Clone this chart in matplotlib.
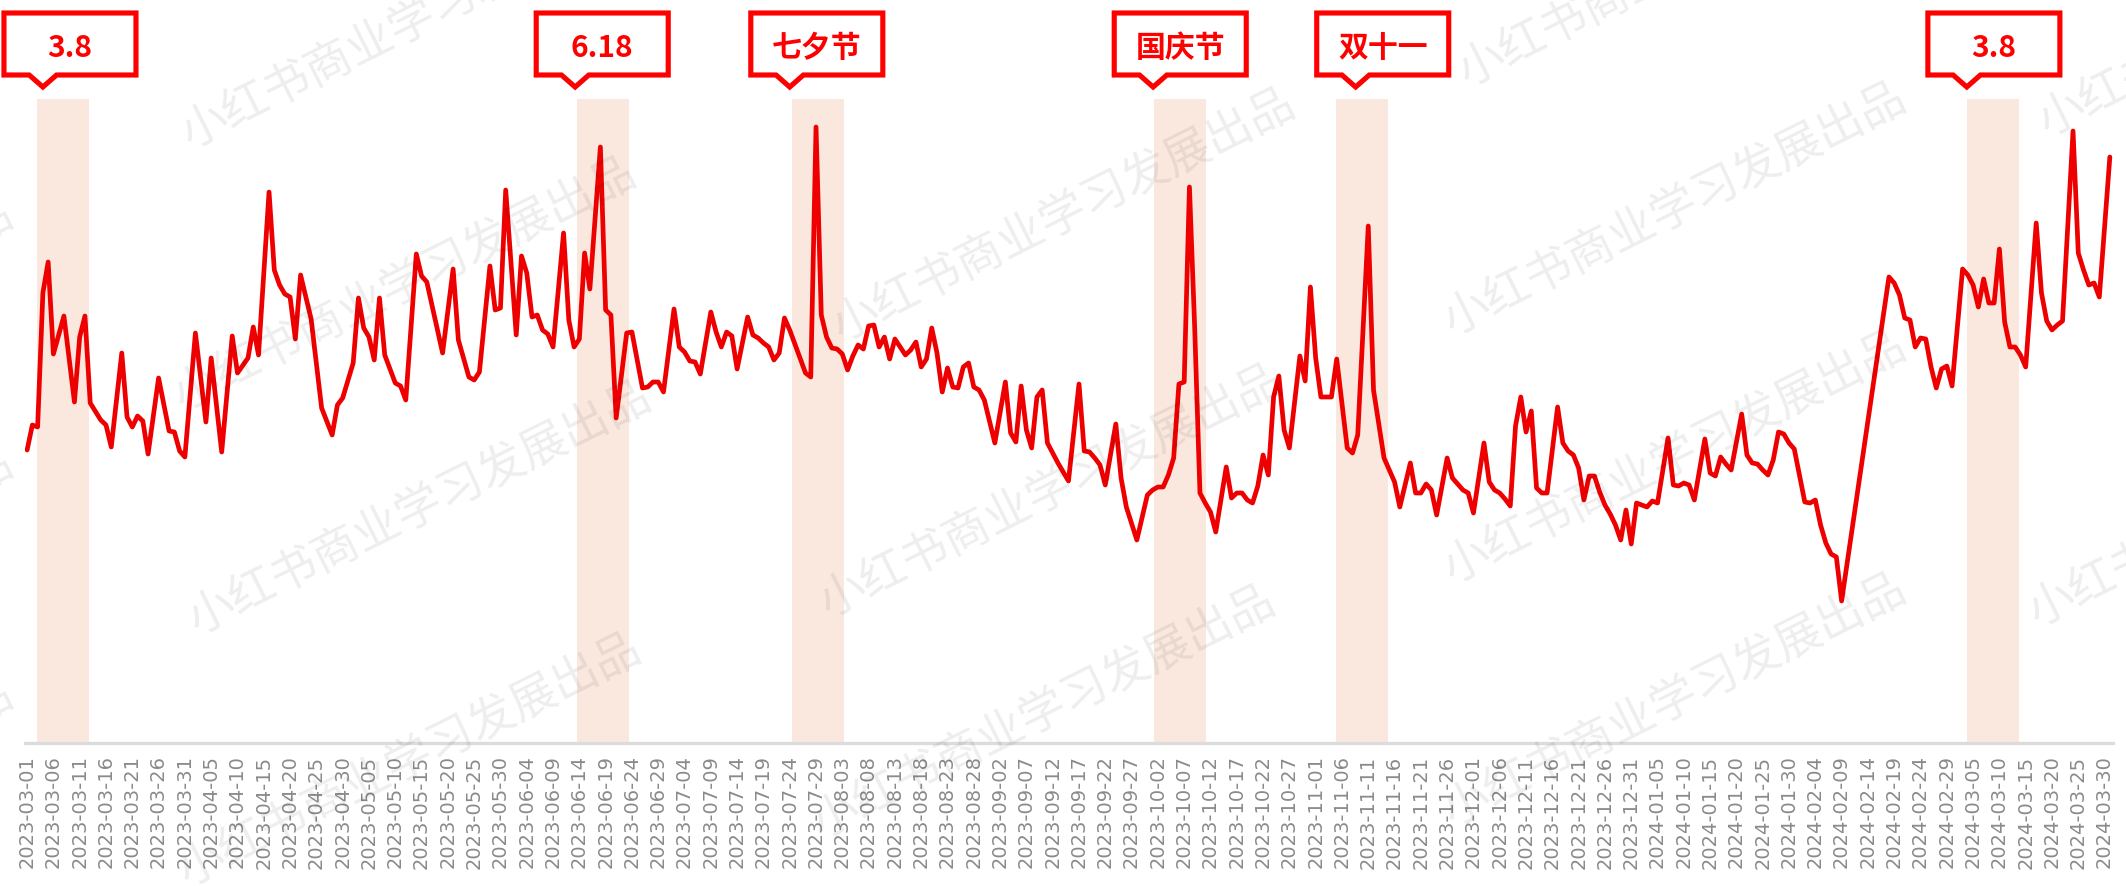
"""Daily index with festival bands (2023-03-01 .. 2024-03-31)."""

import numpy as np
import pandas as pd
import matplotlib
matplotlib.use('Agg')
import matplotlib.pyplot as plt
from matplotlib.patches import Polygon
from matplotlib import transforms

plt.rcParams['font.family'] = ['DejaVu Sans']
CJK = ['Noto Sans CJK SC', 'DejaVu Sans']

start = pd.Timestamp('2023-03-01')

# days since 2023-03-01 and index value
days = [0, 1, 2, 3, 4, 5, 7, 9, 10, 11, 12, 14, 15, 16, 18, 19, 20, 21, 22, 23,
        25, 27, 28, 29, 30, 32, 34, 35, 37, 39, 40, 42, 43, 44, 46, 47, 48, 49,
        50, 51, 52, 54, 56, 58, 59, 60, 62, 63, 64, 65, 66, 67, 68, 70, 71, 72,
        74, 75, 76, 79, 81, 82, 84, 85, 86, 88, 89, 90, 91, 93, 94, 95, 96, 97,
        98, 99, 100, 102, 103, 104, 105, 106, 107, 109, 110, 111, 112, 114, 115,
        117, 118, 119, 120, 121, 123, 124, 125, 126, 127, 128, 130, 131, 132,
        133, 134, 135, 137, 138, 139, 140, 141, 142, 143, 144, 145, 148, 149,
        150, 151, 152, 153, 154, 155, 156, 157, 158, 159, 160, 161, 162, 163,
        164, 165, 166, 167, 168, 169, 170, 171, 172, 173, 174, 175, 176, 177,
        178, 179, 180, 181, 182, 184, 186, 187, 188, 189, 190, 191, 192, 193,
        194, 196, 198, 200, 201, 202, 203, 204, 205, 207, 208, 209, 211, 213,
        214, 215, 216, 217, 218, 219, 220, 221, 222, 223, 224, 225, 226, 228,
        229, 230, 231, 232, 233, 234, 235, 236, 237, 238, 239, 240, 242, 243,
        244, 245, 246, 247, 248, 249, 251, 252, 253, 255, 256, 258, 260, 261,
        263, 264, 265, 266, 267, 268, 270, 271, 272, 273, 274, 275, 277, 278,
        279, 280, 281, 282, 283, 284, 285, 286, 287, 288, 289, 291, 292, 293,
        294, 295, 296, 297, 298, 299, 300, 301, 302, 303, 304, 305, 306, 307,
        308, 309, 310, 312, 313, 314, 315, 316, 317, 319, 320, 321, 322, 323,
        324, 326, 327, 328, 329, 330, 331, 332, 333, 334, 335, 336, 338, 339,
        340, 341, 342, 343, 344, 345, 354, 355, 356, 357, 358, 359, 360, 361,
        362, 363, 364, 365, 366, 368, 369, 370, 371, 372, 373, 374, 375, 376,
        377, 378, 379, 380, 382, 383, 384, 385, 386, 387, 389, 390, 391, 392,
        393, 394, 396]
values = [293, 318, 316, 450, 481, 389, 427, 341, 406, 427, 340, 323, 318, 296,
          390, 326, 316, 327, 322, 289, 365, 312, 311, 292, 286, 410, 321, 385,
          291, 407, 370, 385, 416, 388, 551, 473, 458, 449, 446, 404, 468, 424,
          335, 308, 338, 345, 380, 445, 415, 406, 383, 445, 388, 360, 357, 343,
          489, 467, 461, 390, 474, 403, 366, 363, 371, 477, 433, 435, 553, 408,
          487, 470, 426, 428, 413, 409, 396, 510, 423, 396, 404, 490, 454, 596,
          433, 428, 325, 410, 411, 355, 356, 361, 361, 351, 434, 396, 391, 382,
          381, 369, 431, 411, 396, 411, 407, 374, 426, 408, 405, 400, 396, 383,
          390, 425, 413, 370, 366, 616, 428, 406, 395, 394, 389, 373, 387, 398,
          394, 417, 418, 396, 406, 384, 404, 396, 388, 393, 401, 376, 384, 415,
          390, 351, 375, 356, 355, 376, 380, 356, 353, 343, 300, 361, 310, 301,
          357, 313, 295, 346, 353, 300, 280, 262, 359, 292, 291, 285, 278, 258,
          319, 265, 236, 203, 248, 253, 256, 256, 268, 285, 359, 361, 556, 415,
          250, 240, 231, 211, 276, 245, 250, 250, 243, 240, 257, 288, 268, 346,
          367, 313, 295, 387, 362, 456, 385, 346, 346, 346, 384, 295, 290, 308,
          517, 353, 285, 261, 236, 280, 250, 250, 259, 253, 228, 285, 265, 259,
          253, 250, 230, 300, 261, 253, 250, 244, 237, 317, 346, 311, 332, 255,
          250, 250, 336, 300, 292, 288, 275, 243, 267, 267, 251, 238, 229, 218,
          203, 233, 199, 240, 238, 236, 242, 240, 305, 258, 257, 260, 258, 243,
          304, 270, 267, 286, 279, 273, 329, 288, 280, 279, 273, 268, 283, 311,
          309, 300, 294, 241, 240, 243, 218, 200, 189, 186, 142, 466, 460, 448,
          425, 423, 396, 405, 404, 376, 355, 374, 377, 357, 474, 468, 458, 436,
          464, 440, 440, 494, 421, 396, 396, 388, 376, 520, 450, 422, 413, 418,
          422, 612, 490, 473, 458, 460, 446, 586]

# festival windows (day offsets) and their callout labels
festival_labels = ['3.8', '6.18', '七夕节', '国庆节', '双十一', '3.8']
band_start = [1.9, 104.6, 145.5, 214.3, 248.8, 368.9]
band_len = 9.9
callout_left = [-4.4, 96.8, 137.6, 206.7, 245.2, 361.4]

W, H = 2126, 886
fig = plt.figure(figsize=(W / 100, H / 100), dpi=100)
ax = fig.add_axes([25 / W, 1 - 743 / H, (2113 - 25) / W, (743 - 99) / H])
ax.set_xlim(-0.4, 396.6)
ax.set_ylim(0, 644)

for s in band_start:
    ax.axvspan(s, s + band_len, color='#FAE8DE', lw=0, zorder=0)

ax.plot(days, values, color='#EE0000', lw=3.4, solid_joinstyle='round',
        solid_capstyle='round', zorder=3)

for side in ['top', 'left', 'right']:
    ax.spines[side].set_visible(False)
ax.spines['bottom'].set_color('#DCDCDC')
ax.spines['bottom'].set_linewidth(2.4)
ax.set_yticks([])

tick_days = np.arange(0, 396, 5)
tick_labels = [(start + pd.Timedelta(days=int(d))).strftime('%Y-%m-%d')
               for d in tick_days]
ax.set_xticks(tick_days)
ax.set_xticklabels(tick_labels, rotation=90, fontsize=14, color='#8A8A8A')
ax.tick_params(axis='x', length=0, pad=9)

# callout boxes above the bands
trans = transforms.blended_transform_factory(ax.transData, fig.transFigure)
box_w = 25.1
top, bot, tip = 1 - 13 / H, 1 - 75 / H, 1 - 87 / H
for lab, left in zip(festival_labels, callout_left):
    right = left + box_w
    t = left + 7.4
    hw = 2.6
    pts = [(left, top), (right, top), (right, bot), (t + hw, bot), (t, tip),
           (t - hw, bot), (left, bot)]
    poly = Polygon(pts, closed=True, transform=trans, facecolor='white',
                   edgecolor='#FF0000', lw=3.7, joinstyle='miter',
                   clip_on=False, zorder=5)
    fig.add_artist(poly)
    fig.text(left + box_w / 2, 1 - 48 / H, lab, transform=trans,
             ha='center', va='center', fontsize=21.5, fontweight='bold',
             color='#FF0000', family=CJK, zorder=6)

# faint watermark
wm_centers = [(413, 22), (405, 284), (420, 508), (410, 760),
              (1064, 215), (1051, 491), (1044, 712),
              (1690, -40), (1675, 209), (1675, 457), (1675, 700),
              (-218, 325), (-218, 574), (-218, 805), (2270, 10), (2260, 500)]
for cx, cy in wm_centers:
    fig.text(cx / W, 1 - cy / H, '小红书商业学习发展出品', rotation=26.5,
             rotation_mode='anchor', ha='center', va='center', fontsize=33.5,
             color='#000000', alpha=0.07, family=CJK, zorder=4)

fig.savefig('out.png', dpi=100, facecolor='white')
